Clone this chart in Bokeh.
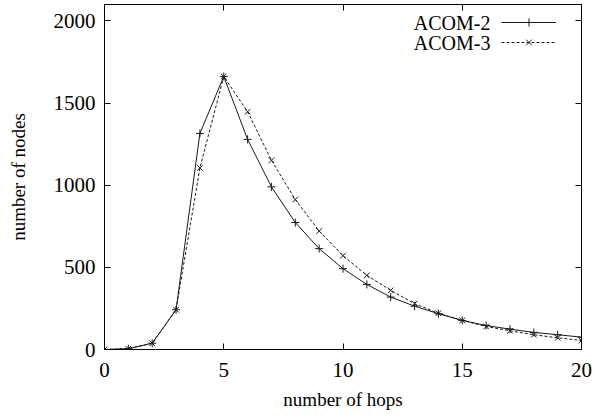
from bokeh.plotting import figure
from bokeh.models import (LinearAxis, Range1d, Legend, LegendItem, FixedTicker,
                          CustomLabelingPolicy, Label)
from bokeh.core.properties import value
from bokeh.embed import file_html
from bokeh.resources import INLINE

hops = list(range(0, 21))
acom2 = [0, 5, 38, 242, 1315, 1662, 1279, 990, 773, 614, 492, 396, 319, 264, 218, 177, 146, 124, 104, 90, 75]
acom3 = [0, 5, 38, 242, 1105, 1662, 1447, 1152, 913, 721, 571, 451, 360, 279, 221, 177, 140, 114, 90, 71, 55]
series_names = ["ACOM-2", "ACOM-3"]
x_ticks = [0, 5, 10, 15, 20]
y_ticks = [0, 500, 1000, 1500, 2000]

FONT = "Liberation Serif"
TICK_FS = "21px"
LAB_FS = "19px"
LEG_FS = "20px"
COL = "#1a1a1a"

p = figure(width=596, height=416, output_backend="svg", toolbar_location=None,
           x_range=Range1d(0, 20), y_range=Range1d(0, 2100),
           x_axis_location=None, y_axis_location=None,
           min_border_left=104, min_border_right=15, min_border_top=4, min_border_bottom=67)
p.xgrid.visible = False
p.ygrid.visible = False
p.outline_line_color = "black"
p.outline_line_width = 1
p.background_fill_color = "white"
p.border_fill_color = "white"

no_labels = CustomLabelingPolicy(code="""
for (const i of Array.from(indices)) { indices.unset(i) }
return indices
""")

def style(ax, labels=True):
    ax.major_tick_in = 6
    ax.major_tick_out = 0
    ax.minor_tick_line_color = None
    ax.axis_line_color = "black"
    ax.major_tick_line_color = "black"
    ax.major_label_text_font = FONT
    ax.major_label_text_font_size = TICK_FS
    ax.major_label_text_color = "black"
    ax.axis_label_text_font = FONT
    ax.axis_label_text_font_style = "normal"
    ax.axis_label_text_font_size = LAB_FS
    ax.axis_label_text_color = "black"
    if not labels:
        ax.major_label_policy = no_labels
        ax.major_label_text_font_size = "0px"
        ax.major_label_standoff = 0

xb = LinearAxis(ticker=FixedTicker(ticks=x_ticks), axis_label="number of hops")
style(xb)
xb.major_label_standoff = 13
xb.axis_label_standoff = 9
p.add_layout(xb, "below")

yl = LinearAxis(ticker=FixedTicker(ticks=y_ticks), axis_label="number of nodes")
style(yl)
yl.major_label_standoff = 9
yl.axis_label_standoff = 22
p.add_layout(yl, "left")

xt = LinearAxis(ticker=FixedTicker(ticks=x_ticks))
style(xt, labels=False)
p.add_layout(xt, "above")

yr = LinearAxis(ticker=FixedTicker(ticks=y_ticks))
style(yr, labels=False)
p.add_layout(yr, "right")

l2 = p.line(hops, acom2, line_color=COL, line_width=1)
m2 = p.scatter(hops, acom2, marker="cross", size=8, line_color=COL, line_width=1)
l3 = p.line(hops, acom3, line_color=COL, line_width=1, line_dash="3 2")
m3 = p.scatter(hops, acom3, marker="x", size=8, line_color=COL, line_width=1)

legend = Legend(items=[LegendItem(label=value(""), renderers=[l2, m2]),
                       LegendItem(label=value(""), renderers=[l3, m3])],
                location=(397, 297))
legend.padding = 0
legend.margin = 0
legend.spacing = 0
legend.glyph_width = 55
legend.glyph_height = 20
legend.label_height = 20
legend.label_width = 0
legend.label_standoff = 0
legend.label_text_font_size = "1px"
legend.border_line_color = None
legend.background_fill_alpha = 0
p.add_layout(legend, "center")

for i, name in enumerate(series_names):
    p.add_layout(Label(x=386, y=327 - 20 * i, x_units="screen", y_units="screen",
                       text=name, text_align="right", text_baseline="middle",
                       text_font=FONT, text_font_size=LEG_FS, text_color="black"))

open("out.html", "w").write(file_html(p, INLINE))
